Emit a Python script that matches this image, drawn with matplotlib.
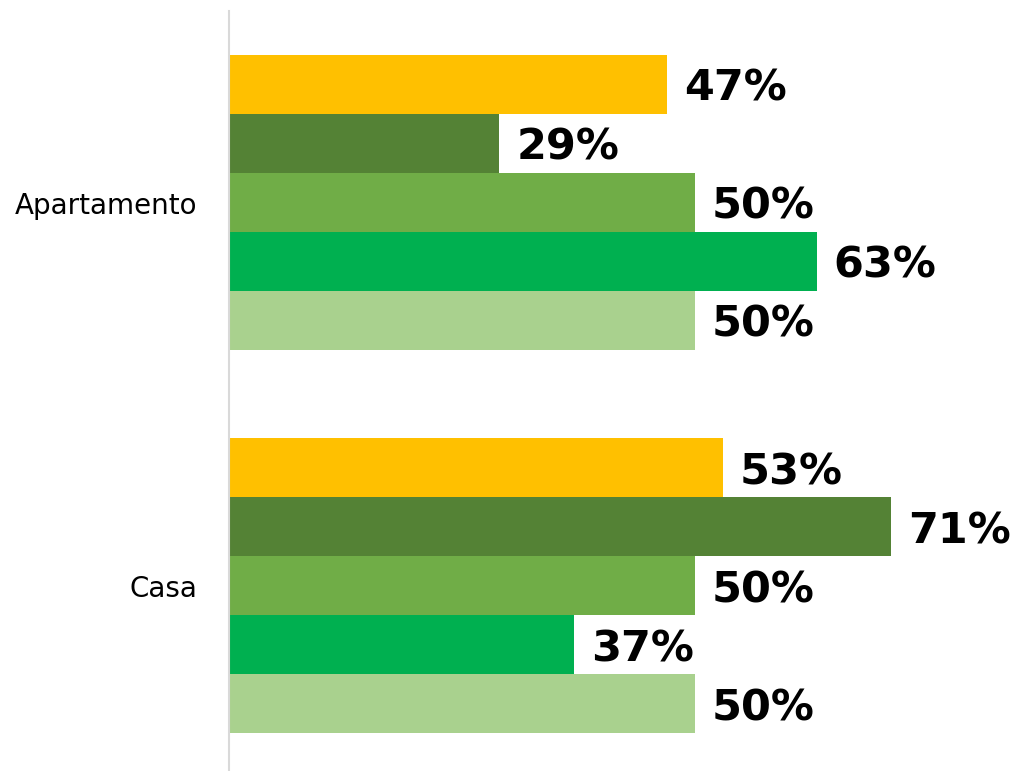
import numpy as np
import matplotlib.pyplot as plt

# data
categories = ['Apartamento', 'Casa']
serie1 = [47, 53]
serie2 = [29, 71]
serie3 = [50, 50]
serie4 = [63, 37]
serie5 = [50, 50]
series = [serie1, serie2, serie3, serie4, serie5]
colors = ['#FFC000', '#548235', '#70AD47', '#00B050', '#A9D18E']

fig = plt.figure(figsize=(10.19, 7.71), dpi=100)
ax = fig.add_axes([229 / 1019, 0, 1 - 229 / 1019, 760 / 771])

centers = np.arange(len(categories)) * 6.5
bar_h = 1.0

for j, (vals, col) in enumerate(zip(series, colors)):
    ypos = centers + (j - 2) * bar_h
    ax.barh(ypos, vals, height=bar_h, color=col, edgecolor='none')
    for y, v in zip(ypos, vals):
        ax.annotate(f'{v}%', xy=(v, y), xytext=(12, -3), textcoords='offset points',
                    ha='left', va='center', fontsize=31, fontweight='bold', color='black')

ax.set_xlim(0, 84.7)
ax.set_ylim(9.636, -3.246)
ax.set_yticks(centers)
ax.set_yticklabels(categories, fontsize=20)
ax.tick_params(axis='y', length=0, pad=23)
ax.set_xticks([])
for s in ['top', 'right', 'bottom']:
    ax.spines[s].set_visible(False)
ax.spines['left'].set_color('#D9D9D9')
ax.spines['left'].set_linewidth(1.5)

plt.savefig('out.png', dpi=100)
